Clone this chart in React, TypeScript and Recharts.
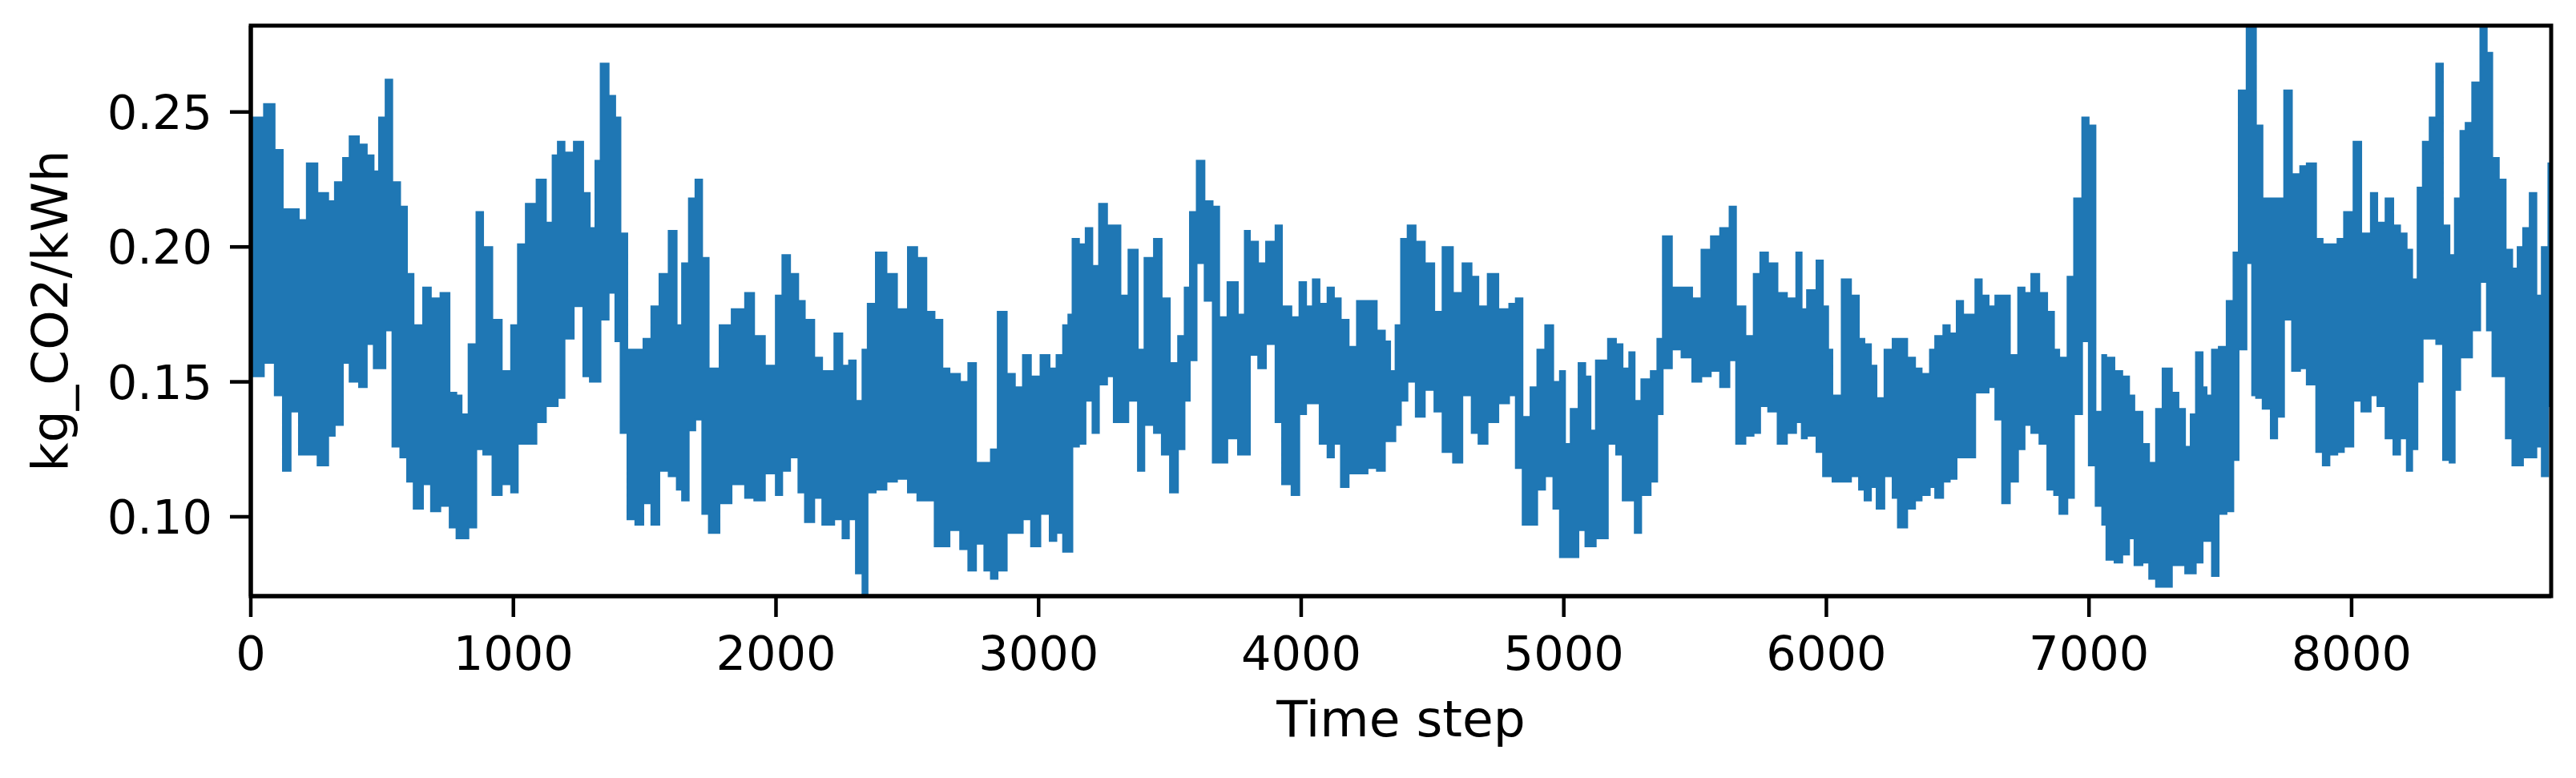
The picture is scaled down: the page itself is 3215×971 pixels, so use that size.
import { Area, ComposedChart, Label, ReferenceArea, XAxis, YAxis } from "recharts";

const timeSteps = [
  0, 50, 91, 122, 152, 183, 213, 254, 295, 320, 351, 376, 412, 442, 468, 488, 513, 539, 569, 595,
  620, 656, 686, 722, 757, 783, 803, 829, 859, 885, 920, 956, 991, 1017, 1047, 1088, 1124, 1149, 1169, 1195,
  1230, 1266, 1291, 1312, 1332, 1363, 1388, 1408, 1434, 1464, 1495, 1525, 1556, 1591, 1622, 1642, 1668, 1693, 1719, 1744,
  1785, 1831, 1882, 1917, 1958, 1999, 2024, 2054, 2085, 2110, 2146, 2176, 2222, 2253, 2278, 2304, 2329, 2349, 2380, 2421,
  2461, 2502, 2538, 2573, 2604, 2634, 2661, 2701, 2732, 2762, 2793, 2818, 2844, 2879, 2910, 2940, 2971, 3007, 3042, 3068,
  3093, 3113, 3129, 3154, 3179, 3205, 3230, 3261, 3286, 3312, 3342, 3378, 3403, 3439, 3469, 3500, 3531, 3556, 3576, 3602,
  3632, 3663, 3688, 3719, 3759, 3785, 3805, 3836, 3866, 3902, 3927, 3963, 3993, 4019, 4044, 4070, 4100, 4125, 4151, 4181,
  4212, 4253, 4288, 4319, 4339, 4359, 4380, 4405, 4436, 4471, 4507, 4538, 4578, 4614, 4649, 4675, 4710, 4751, 4792, 4817,
  4843, 4873, 4899, 4929, 4960, 4985, 5005, 5026, 5056, 5082, 5102, 5122, 5168, 5199, 5224, 5249, 5270, 5295, 5331, 5356,
  5377, 5412, 5448, 5489, 5524, 5560, 5595, 5631, 5656, 5692, 5723, 5748, 5778, 5814, 5850, 5885, 5906, 5926, 5962, 5987,
  6007, 6023, 6058, 6094, 6124, 6145, 6170, 6191, 6221, 6252, 6272, 6308, 6338, 6363, 6394, 6414, 6445, 6470, 6496, 6521,
  6567, 6592, 6618, 6643, 6669, 6699, 6730, 6755, 6780, 6811, 6841, 6867, 6887, 6918, 6943, 6974, 6999, 7025, 7050, 7066,
  7097, 7127, 7153, 7173, 7204, 7229, 7255, 7280, 7316, 7341, 7366, 7387, 7407, 7433, 7448, 7468, 7494, 7524, 7550, 7570,
  7600, 7621, 7636, 7661, 7692, 7717, 7743, 7773, 7804, 7829, 7865, 7890, 7916, 7946, 7971, 8007, 8037, 8073, 8098, 8129,
  8159, 8185, 8210, 8231, 8251, 8271, 8297, 8322, 8348, 8373, 8393, 8414, 8434, 8459, 8490, 8515, 8536, 8561, 8587, 8612,
  8632, 8653, 8678, 8704, 8724, 8749, 8760,
];

const upper = [
  0.248, 0.253, 0.236, 0.214, 0.214, 0.21, 0.231, 0.22, 0.217, 0.224, 0.233, 0.241, 0.238, 0.234, 0.228, 0.248, 0.262, 0.224, 0.215, 0.19,
  0.171, 0.185, 0.181, 0.183, 0.146, 0.145, 0.138, 0.164, 0.213, 0.2, 0.173, 0.154, 0.171, 0.201, 0.216, 0.225, 0.209, 0.234, 0.239, 0.235,
  0.239, 0.22, 0.207, 0.232, 0.268, 0.256, 0.248, 0.205, 0.162, 0.162, 0.166, 0.178, 0.19, 0.206, 0.171, 0.194, 0.218, 0.225, 0.196, 0.155,
  0.171, 0.177, 0.183, 0.167, 0.156, 0.182, 0.197, 0.19, 0.18, 0.173, 0.159, 0.154, 0.168, 0.156, 0.158, 0.143, 0.162, 0.179, 0.198, 0.19,
  0.177, 0.2, 0.196, 0.176, 0.173, 0.155, 0.153, 0.15, 0.157, 0.12, 0.12, 0.125, 0.176, 0.153, 0.148, 0.16, 0.152, 0.16, 0.155, 0.16,
  0.171, 0.175, 0.203, 0.201, 0.207, 0.193, 0.216, 0.208, 0.208, 0.182, 0.199, 0.162, 0.196, 0.203, 0.181, 0.157, 0.167, 0.185, 0.213, 0.232,
  0.217, 0.215, 0.174, 0.187, 0.175, 0.206, 0.202, 0.194, 0.202, 0.208, 0.178, 0.174, 0.187, 0.178, 0.188, 0.179, 0.185, 0.181, 0.173, 0.163,
  0.18, 0.18, 0.169, 0.165, 0.154, 0.171, 0.203, 0.208, 0.202, 0.194, 0.176, 0.2, 0.183, 0.194, 0.189, 0.178, 0.19, 0.177, 0.179, 0.181,
  0.137, 0.148, 0.162, 0.171, 0.15, 0.154, 0.127, 0.14, 0.157, 0.152, 0.132, 0.158, 0.166, 0.164, 0.155, 0.161, 0.143, 0.151, 0.154, 0.166,
  0.204, 0.185, 0.185, 0.181, 0.199, 0.204, 0.207, 0.215, 0.178, 0.167, 0.19, 0.198, 0.194, 0.183, 0.181, 0.198, 0.177, 0.184, 0.195, 0.178,
  0.162, 0.145, 0.188, 0.182, 0.166, 0.164, 0.156, 0.144, 0.162, 0.166, 0.166, 0.159, 0.155, 0.153, 0.162, 0.167, 0.171, 0.168, 0.18, 0.175,
  0.188, 0.182, 0.178, 0.182, 0.182, 0.16, 0.185, 0.183, 0.19, 0.183, 0.176, 0.162, 0.159, 0.189, 0.218, 0.248, 0.245, 0.139, 0.16, 0.159,
  0.154, 0.152, 0.145, 0.139, 0.127, 0.12, 0.14, 0.155, 0.146, 0.14, 0.126, 0.138, 0.161, 0.148, 0.145, 0.162, 0.163, 0.18, 0.198, 0.258,
  0.284, 0.284, 0.245, 0.218, 0.218, 0.218, 0.258, 0.227, 0.23, 0.231, 0.203, 0.201, 0.201, 0.203, 0.213, 0.239, 0.205, 0.22, 0.209, 0.218,
  0.208, 0.205, 0.199, 0.188, 0.222, 0.239, 0.248, 0.268, 0.208, 0.197, 0.218, 0.243, 0.246, 0.261, 0.284, 0.272, 0.233, 0.225, 0.199, 0.192,
  0.2, 0.207, 0.22, 0.182, 0.2, 0.231, 0.231,
];

const lower = [
  0.152, 0.157, 0.145, 0.117, 0.139, 0.123, 0.123, 0.119, 0.13, 0.134, 0.157, 0.15, 0.148, 0.164, 0.155, 0.155, 0.169, 0.126, 0.122, 0.113,
  0.103, 0.112, 0.102, 0.104, 0.096, 0.092, 0.092, 0.096, 0.125, 0.123, 0.108, 0.112, 0.109, 0.127, 0.127, 0.135, 0.141, 0.141, 0.144, 0.166,
  0.178, 0.152, 0.15, 0.15, 0.173, 0.183, 0.165, 0.131, 0.099, 0.097, 0.105, 0.097, 0.117, 0.115, 0.11, 0.106, 0.132, 0.136, 0.101, 0.094,
  0.105, 0.112, 0.107, 0.106, 0.116, 0.108, 0.117, 0.122, 0.109, 0.098, 0.107, 0.097, 0.099, 0.092, 0.099, 0.079, 0.071, 0.109, 0.11, 0.113,
  0.114, 0.109, 0.106, 0.106, 0.089, 0.089, 0.095, 0.088, 0.08, 0.09, 0.08, 0.077, 0.08, 0.094, 0.094, 0.099, 0.089, 0.101, 0.091, 0.094,
  0.087, 0.087, 0.126, 0.127, 0.143, 0.131, 0.149, 0.152, 0.135, 0.135, 0.143, 0.117, 0.134, 0.131, 0.123, 0.109, 0.125, 0.143, 0.158, 0.194,
  0.18, 0.12, 0.12, 0.129, 0.123, 0.123, 0.16, 0.155, 0.164, 0.135, 0.112, 0.108, 0.138, 0.142, 0.142, 0.127, 0.122, 0.127, 0.111, 0.116,
  0.116, 0.118, 0.117, 0.128, 0.128, 0.134, 0.143, 0.15, 0.137, 0.147, 0.139, 0.124, 0.12, 0.145, 0.131, 0.127, 0.135, 0.142, 0.145, 0.118,
  0.097, 0.097, 0.11, 0.115, 0.103, 0.085, 0.085, 0.085, 0.095, 0.089, 0.089, 0.092, 0.127, 0.123, 0.106, 0.106, 0.094, 0.108, 0.113, 0.138,
  0.155, 0.162, 0.159, 0.15, 0.152, 0.154, 0.148, 0.158, 0.127, 0.13, 0.131, 0.141, 0.139, 0.127, 0.131, 0.135, 0.129, 0.13, 0.124, 0.115,
  0.115, 0.113, 0.113, 0.115, 0.11, 0.106, 0.111, 0.103, 0.115, 0.107, 0.096, 0.103, 0.106, 0.108, 0.111, 0.107, 0.113, 0.114, 0.122, 0.122,
  0.146, 0.146, 0.148, 0.136, 0.105, 0.113, 0.125, 0.134, 0.131, 0.127, 0.11, 0.108, 0.101, 0.107, 0.138, 0.165, 0.119, 0.104, 0.097, 0.084,
  0.083, 0.086, 0.092, 0.082, 0.083, 0.077, 0.074, 0.074, 0.082, 0.082, 0.079, 0.079, 0.083, 0.091, 0.091, 0.078, 0.101, 0.102, 0.121, 0.162,
  0.194, 0.145, 0.144, 0.14, 0.129, 0.137, 0.173, 0.154, 0.155, 0.149, 0.124, 0.119, 0.123, 0.124, 0.126, 0.143, 0.139, 0.145, 0.141, 0.129,
  0.123, 0.129, 0.117, 0.125, 0.15, 0.166, 0.166, 0.164, 0.121, 0.12, 0.147, 0.159, 0.159, 0.169, 0.187, 0.169, 0.152, 0.152, 0.129, 0.119,
  0.119, 0.122, 0.122, 0.126, 0.115, 0.141, 0.142,
];

const xTicks = [0, 1000, 2000, 3000, 4000, 5000, 6000, 7000, 8000];
const yTicks = [0.1, 0.15, 0.2, 0.25];

const Y_MIN = 0.0706;
const Y_MAX = 0.282;
const X_MAX = 8760;

const blue = "#1f77b4";
const font = "DejaVu Sans";
const tickStyle = { fill: "#000", fontSize: 59, fontFamily: font };
const labelStyle = { fill: "#000", fontSize: 63, fontFamily: font };

export default function App() {
  const data = timeSteps.map((t, i) => ({
    t,
    co2: [lower[i], upper[i]],
  }));

  return (
    <div
      style={{
        position: "absolute",
        left: 0,
        top: 0,
        width: 3215,
        height: 971,
        background: "#fff",
      }}
    >
      <ComposedChart
        width={3215}
        height={971}
        data={data}
        margin={{ top: 32, right: 31, bottom: 107, left: 0 }}
      >
        <XAxis
          dataKey="t"
          type="number"
          domain={[0, X_MAX]}
          ticks={xTicks}
          allowDataOverflow
          height={120}
          stroke="#000"
          tickSize={26}
          tickMargin={24}
          tick={tickStyle}
          axisLine={{ stroke: "#000", strokeWidth: 5 }}
          tickLine={{ stroke: "#000", strokeWidth: 4.5 }}
        >
          <Label value="Time step" position="bottom" offset={10} style={labelStyle} />
        </XAxis>
        <YAxis
          type="number"
          domain={[Y_MIN, Y_MAX]}
          ticks={yTicks}
          allowDataOverflow
          width={313}
          stroke="#000"
          tickSize={26}
          tickMargin={22}
          tick={tickStyle}
          tickFormatter={(v) => Number(v).toFixed(2)}
          axisLine={{ stroke: "#000", strokeWidth: 5 }}
          tickLine={{ stroke: "#000", strokeWidth: 4.5 }}
        >
          <Label
            value="kg_CO2/kWh"
            angle={-90}
            position="insideLeft"
            offset={62}
            style={{ ...labelStyle, textAnchor: "middle" }}
          />
        </YAxis>
        <Area
          dataKey="co2"
          type="stepAfter"
          stroke={blue}
          strokeWidth={2}
          fill={blue}
          fillOpacity={1}
          isAnimationActive={false}
          dot={false}
          activeDot={false}
        />
        <ReferenceArea
          x1={0}
          x2={X_MAX}
          y1={Y_MIN}
          y2={Y_MAX}
          fill="none"
          stroke="#000"
          strokeWidth={5}
          ifOverflow="visible"
        />
      </ComposedChart>
    </div>
  );
}
